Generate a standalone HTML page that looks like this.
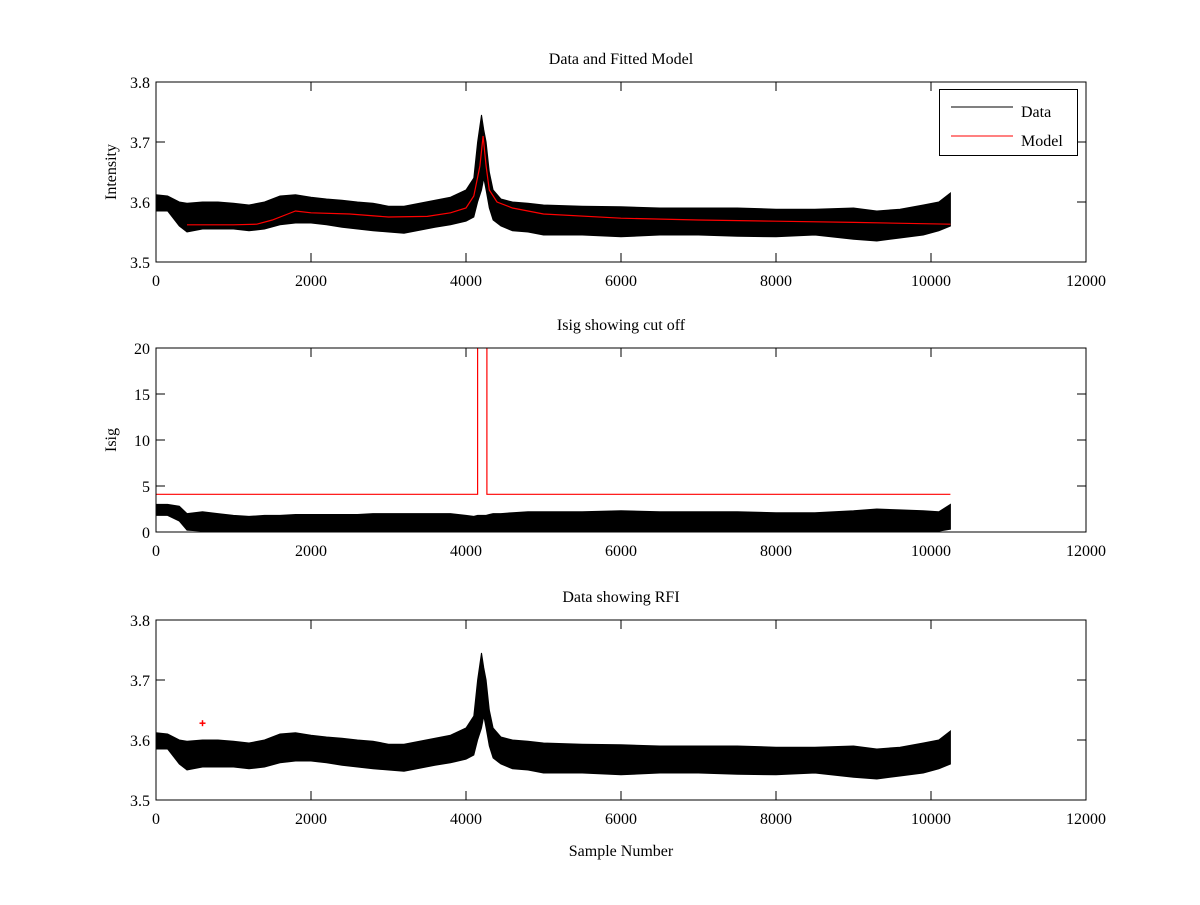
<!DOCTYPE html>
<html><head><meta charset="utf-8">
<style>
body{margin:0;background:#fff;}
svg text{font-family:"Liberation Serif",serif;font-size:16px;fill:#000;}
</style></head>
<body>
<svg id="fig" width="1200" height="900" viewBox="0 0 1200 900" xmlns="http://www.w3.org/2000/svg">
<rect width="1200" height="900" fill="#fff"/>
</svg>
<script>
// ---- data ----
const samplePos = [0,150,300,400,600,800,1000,1200,1400,1600,1800,2000,2200,2400,2600,2800,3000,3200,3400,3600,3800,4000,4100,4150,4200,4230,4260,4300,4350,4450,4600,4800,5000,5500,6000,6500,7000,7500,8000,8500,9000,9300,9600,9900,10100,10250];
const dataLo = [3.585,3.585,3.56,3.55,3.555,3.555,3.555,3.552,3.555,3.562,3.565,3.565,3.562,3.558,3.555,3.552,3.55,3.548,3.553,3.558,3.562,3.568,3.575,3.60,3.62,3.64,3.62,3.59,3.57,3.56,3.552,3.55,3.545,3.545,3.542,3.545,3.545,3.543,3.542,3.545,3.538,3.535,3.54,3.545,3.552,3.56];
const dataHi = [3.612,3.61,3.60,3.598,3.60,3.60,3.598,3.595,3.60,3.61,3.612,3.608,3.605,3.603,3.60,3.598,3.593,3.593,3.598,3.603,3.608,3.62,3.64,3.70,3.745,3.72,3.70,3.65,3.62,3.605,3.60,3.598,3.595,3.593,3.592,3.59,3.59,3.59,3.588,3.588,3.59,3.585,3.588,3.595,3.60,3.615];
const isigLo = [1.8,1.8,1.2,0.2,0.1,0.1,0.1,0.1,0.1,0.1,0.1,0.1,0.1,0.1,0.1,0.1,0.1,0.1,0.1,0.1,0.1,0.1,0.1,0.1,0.1,0.1,0.1,0.1,0.1,0.1,0.1,0.1,0.1,0.1,0.1,0.1,0.1,0.1,0.1,0.1,0.1,0.1,0.1,0.1,0.1,0.3];
const isigHi = [3.0,3.0,2.8,2.0,2.2,2.0,1.8,1.7,1.8,1.8,1.9,1.9,1.9,1.9,1.9,2.0,2.0,2.0,2.0,2.0,2.0,1.8,1.7,1.8,1.8,1.8,1.8,1.9,2.0,2.0,2.1,2.2,2.2,2.2,2.3,2.2,2.2,2.2,2.1,2.1,2.3,2.5,2.4,2.3,2.2,3.0];
const modelX = [400,1000,1300,1500,1700,1800,2000,2500,3000,3500,3800,4000,4100,4180,4220,4260,4300,4400,4600,5000,6000,7000,8000,9000,10250];
const modelY = [3.562,3.562,3.563,3.57,3.58,3.585,3.582,3.58,3.575,3.576,3.582,3.59,3.61,3.66,3.71,3.66,3.62,3.60,3.59,3.58,3.573,3.57,3.568,3.566,3.563];
const cutX = [0,4150,4150,4270,4270,10250];
const cutY = [4.1,4.1,25,25,4.1,4.1];
const rfiX = [600];
const rfiY = [3.628];
const xTicks = [0,2000,4000,6000,8000,10000,12000];
const intTicks = [3.5,3.6,3.7,3.8];
const isigTicks = [0,5,10,15,20];

const svg = document.getElementById('fig');
const NS = 'http://www.w3.org/2000/svg';
const L = 156, R = 1086;
const xs = v => L + (v / 12000) * (R - L);
function mk(tag, attrs, parent) {
  const e = document.createElementNS(NS, tag);
  for (const k in attrs) e.setAttribute(k, attrs[k]);
  (parent || svg).appendChild(e);
  return e;
}
function txt(s, x, y, anchor, parent, rot) {
  const t = mk('text', {x: x, y: y, 'text-anchor': anchor || 'middle'}, parent);
  if (rot) t.setAttribute('transform', 'rotate(-90 ' + x + ' ' + y + ')');
  t.textContent = s;
  return t;
}

function panel(name, top, bot, ymin, ymax, yTicks, title, ylabel, fmt) {
  const g = mk('g', {});
  
  
  const ys = v => bot - (v - ymin) / (ymax - ymin) * (bot - top);
  const clipId = name + '-clip';
  const cp = mk('clipPath', {id: clipId}, g);
  mk('rect', {x: L, y: top, width: R - L, height: bot - top}, cp);
  const plot = mk('g', {'clip-path': 'url(#' + clipId + ')'}, g);
  
  
  // axes box
  const box = mk('rect', {x: L, y: top, width: R - L, height: bot - top, fill: 'none', stroke: '#000', 'stroke-width': 1}, g);
  
  
  xTicks.forEach(t => {
    const x = xs(t);
    mk('line', {x1: x, x2: x, y1: bot, y2: bot - 9, stroke: '#000'}, g);
    mk('line', {x1: x, x2: x, y1: top, y2: top + 9, stroke: '#000'}, g);
    const lb = txt(String(t), x, bot + 24, 'middle', g);
    
    
  });
  yTicks.forEach(t => {
    const y = ys(t);
    mk('line', {x1: L, x2: L + 9, y1: y, y2: y, stroke: '#000'}, g);
    mk('line', {x1: R, x2: R - 9, y1: y, y2: y, stroke: '#000'}, g);
    const lb = txt(fmt(t), L - 6, y + 6, 'end', g);
    
    
  });
  const tt = txt(title, (L + R) / 2, top - 18, 'middle', g);
  
  
  const yl = txt(ylabel, L - 40, (top + bot) / 2, 'middle', g, true);
  
  
  return {g, plot, ys};
}

function envelope(plot, ys, lo, hi, name) {
  let d = '';
  samplePos.forEach((s, i) => { d += (i ? 'L' : 'M') + xs(s).toFixed(1) + ' ' + ys(hi[i]).toFixed(1); });
  for (let i = samplePos.length - 1; i >= 0; i--) d += 'L' + xs(samplePos[i]).toFixed(1) + ' ' + ys(lo[i]).toFixed(1);
  const p = mk('path', {d: d + 'Z', fill: '#000', stroke: '#000', 'stroke-width': 1}, plot);
  
  
}
function line(plot, ys, X, Y, color, name) {
  const pts = X.map((x, i) => xs(x).toFixed(1) + ',' + ys(Y[i]).toFixed(1)).join(' ');
  const p = mk('polyline', {points: pts, fill: 'none', stroke: color, 'stroke-width': 1.2}, plot);
  
  
}

// Panel 1
const p1 = panel('data-model-panel', 82, 262, 3.5, 3.8, intTicks, 'Data and Fitted Model', 'Intensity', v => v.toFixed(1));
envelope(p1.plot, p1.ys, dataLo, dataHi, 'data-series');
line(p1.plot, p1.ys, modelX, modelY, '#f00', 'model-series');
// legend
const lg = mk('g', {}, p1.g);


mk('rect', {x: 939.5, y: 89.5, width: 138, height: 66, fill: '#fff', stroke: '#000'}, lg);
mk('line', {x1: 951, x2: 1013, y1: 107, y2: 107, stroke: '#000'}, lg);
const ld = txt('Data', 1021, 117, 'start', lg);


mk('line', {x1: 951, x2: 1013, y1: 136, y2: 136, stroke: '#f00'}, lg);
const lm = txt('Model', 1021, 146, 'start', lg);



// Panel 2
const p2 = panel('isig-panel', 348, 532, 0, 20, isigTicks, 'Isig showing cut off', 'Isig', v => String(v));
envelope(p2.plot, p2.ys, isigLo, isigHi, 'isig-series');
line(p2.plot, p2.ys, cutX, cutY, '#f00', 'cutoff-line');

// Panel 3
const p3 = panel('rfi-panel', 620, 800, 3.5, 3.8, intTicks, 'Data showing RFI', '', v => v.toFixed(1));
envelope(p3.plot, p3.ys, dataLo, dataHi, 'rfi-data-series');
rfiX.forEach((x, i) => {
  const m = mk('g', {}, p3.plot);
  
  
  const cx = xs(x), cy = p3.ys(rfiY[i]);
  mk('line', {x1: cx - 3, x2: cx + 3, y1: cy, y2: cy, stroke: '#f00', 'stroke-width': 1.5}, m);
  mk('line', {x1: cx, x2: cx, y1: cy - 3, y2: cy + 3, stroke: '#f00', 'stroke-width': 1.5}, m);
});
const xl = txt('Sample Number', (L + R) / 2, 856, 'middle');


</script>
</body></html>
